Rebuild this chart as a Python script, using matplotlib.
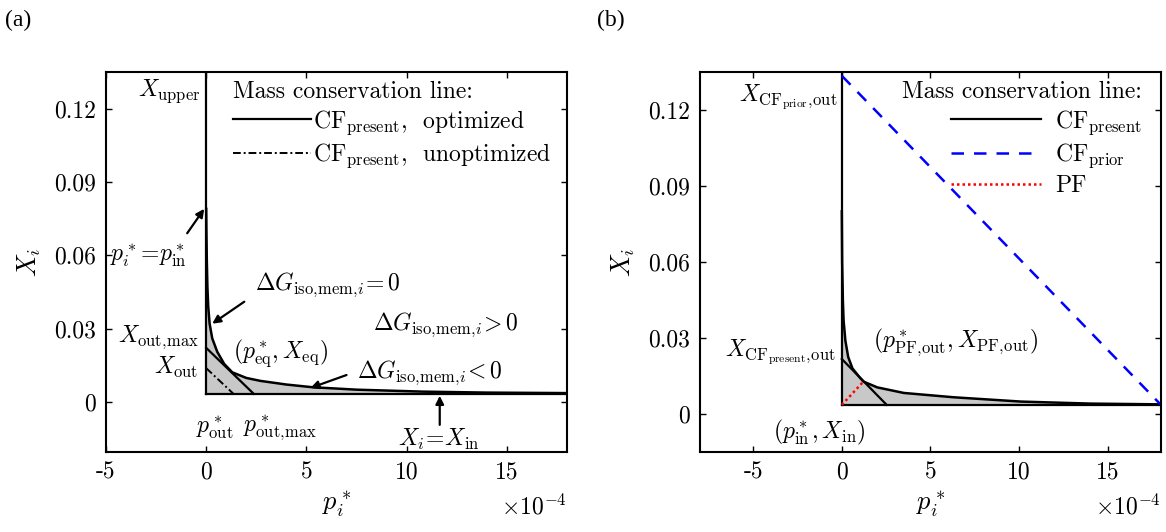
import numpy as np
import matplotlib
matplotlib.use('Agg')
import matplotlib.pyplot as plt
from matplotlib.ticker import FuncFormatter
import warnings

warnings.filterwarnings('ignore')

plt.rcParams['font.family'] = 'cmr10'
plt.rcParams['mathtext.fontset'] = 'cm'
plt.rcParams['axes.unicode_minus'] = False

FS = 17

# ---- data, p* in units of 1e-4 ----
# (a)
p_iso_a = [0.0, 0.01, 0.03, 0.06, 0.10, 0.17, 0.30, 0.55, 0.90, 1.30, 2.0, 2.7, 4.0, 5.3, 7.5, 10.8, 14.0, 18.0]
X_iso_a = [0.079, 0.070, 0.058, 0.047, 0.039, 0.032, 0.026, 0.0205, 0.0155, 0.0121, 0.0098, 0.0086, 0.0071, 0.006, 0.005, 0.0042, 0.0038, 0.0036]
X_in_a = 0.0033
X_top_a = 0.135
opt_p = [0.0, 2.37]
opt_X = [0.0221, X_in_a]
unopt_p = [0.0, 1.36]
unopt_X = [0.0138, X_in_a]

# (b)
p_iso_b = [0.0, 0.02, 0.06, 0.10, 0.20, 0.36, 0.60, 1.0, 1.22, 2.0, 3.5, 6.3, 10.1, 14.0, 18.0]
X_iso_b = [0.080, 0.060, 0.045, 0.037, 0.029, 0.0225, 0.018, 0.0145, 0.0128, 0.0105, 0.0083, 0.0066, 0.0049, 0.0041, 0.0038]
X_in_b = 0.0036
X_top_b = 0.135
cf_p = [0.0, 2.53]
cf_X = [0.0217, X_in_b]
prior_p = [0.0, 18.0]
prior_X = [0.1335, X_in_b]
pf_p = [0.0, 1.22]
pf_X = [X_in_b, 0.0128]

xticks = [-5, 0, 5, 10, 15]
yticks = [0, 0.03, 0.06, 0.09, 0.12]

C = r',\!'   # tight comma inside subscripts


def fmt(v, _):
    return '0' if abs(v) < 1e-12 else f'{v:g}'


def style_axes(ax, xlim, ylim):
    ax.set_xlim(*xlim)
    ax.set_ylim(*ylim)
    ax.set_xticks(xticks)
    ax.set_yticks(yticks)
    ax.xaxis.set_major_formatter(FuncFormatter(fmt))
    ax.yaxis.set_major_formatter(FuncFormatter(fmt))
    ax.tick_params(direction='in', top=True, right=True, length=4, width=1,
                   labelsize=FS, pad=7)
    for s in ax.spines.values():
        s.set_linewidth(1.5)
    ax.set_xlabel(r'$p_i^*$', fontsize=FS + 2, labelpad=4)
    ax.set_ylabel(r'$X_i$', fontsize=FS + 2, labelpad=8)
    ax.text(1.0, -0.11, r'$\times 10^{-4}$', transform=ax.transAxes,
            ha='right', va='top', fontsize=FS)


arrow = dict(arrowstyle='-|>', color='k', lw=1.6, mutation_scale=12,
             shrinkA=0, shrinkB=0)

fig = plt.figure(figsize=(11.66, 5.32), dpi=100)
axa = fig.add_axes([0.0909, 0.1504, 0.3954, 0.7143])
axb = fig.add_axes([0.6003, 0.1504, 0.3954, 0.7143])

# ---------------- (a) ----------------
ax = axa
ax.fill_between(p_iso_a, X_in_a, X_iso_a, color='#c8c8c8', lw=0)
ax.plot([0, 0], [X_in_a, X_top_a], color='k', lw=1.6)
ax.plot([0, p_iso_a[-1]], [X_in_a, X_in_a], color='k', lw=1.6)
ax.plot(p_iso_a, X_iso_a, color='k', lw=1.8)
l_opt, = ax.plot(opt_p, opt_X, color='k', lw=1.6)
l_un, = ax.plot(unopt_p, unopt_X, color='k', lw=1.4, ls=(0, (4, 1.5, 1, 1.5)))
style_axes(ax, (-5, 18), (-0.0205, X_top_a))

ax.legend([l_opt, l_un],
          [r'$\mathrm{CF}_{\mathrm{present}}$,  optimized',
           r'$\mathrm{CF}_{\mathrm{present}}$,  unoptimized'],
          title='Mass conservation line:', loc='upper left',
          bbox_to_anchor=(0.235, 1.025), frameon=False, fontsize=FS,
          title_fontsize=FS, handlelength=3.3, handletextpad=0.1,
          labelspacing=0.2, borderpad=0.3, alignment='left')

G = r'\Delta G_{\mathrm{iso' + C + 'mem}' + C + 'i}'
ax.text(-0.3, 0.127, r'$X_{\mathrm{upper}}$', ha='right', va='center', fontsize=FS)
ax.text(-4.8, 0.060, r'$p_i^*\!=\!p_{\mathrm{in}}^*$', ha='left', va='center', fontsize=FS)
ax.annotate('', xy=(-0.1, 0.079), xytext=(-0.95, 0.069), arrowprops=arrow)
ax.text(2.45, 0.048, '$' + G + r'\!=0$', ha='left', va='center', fontsize=FS)
ax.annotate('', xy=(0.3, 0.032), xytext=(1.9, 0.041), arrowprops=arrow)
ax.text(8.3, 0.0315, '$' + G + r'\!>0$', ha='left', va='center', fontsize=FS)
ax.text(1.36, 0.020, r'$(p_{\mathrm{eq}}^*, X_{\mathrm{eq}})$', ha='left', va='center', fontsize=FS)
ax.text(7.5, 0.0119, '$' + G + r'\!<0$', ha='left', va='center', fontsize=FS)
ax.annotate('', xy=(5.2, 0.0057), xytext=(7.0, 0.011), arrowprops=arrow)
ax.text(-0.38, 0.0266, r'$X_{\mathrm{out' + C + 'max}}$', ha='right', va='center', fontsize=FS)
ax.text(-0.38, 0.0139, r'$X_{\mathrm{out}}$', ha='right', va='center', fontsize=FS)
ax.text(-0.53, -0.0106, r'$p_{\mathrm{out}}^*$', ha='left', va='center', fontsize=FS)
ax.text(1.86, -0.0106, r'$p_{\mathrm{out' + C + 'max}}^*$', ha='left', va='center', fontsize=FS)
ax.text(9.57, -0.0155, r'$X_i\!=\!X_{\mathrm{in}}$', ha='left', va='center', fontsize=FS)
ax.annotate('', xy=(11.65, X_in_a - 0.0008), xytext=(11.65, -0.0094), arrowprops=arrow)

# ---------------- (b) ----------------
ax = axb
ax.fill_between(p_iso_b, X_in_b, X_iso_b, color='#c8c8c8', lw=0)
ax.plot([0, 0], [X_in_b, X_top_b], color='k', lw=1.6)
ax.plot([0, p_iso_b[-1]], [X_in_b, X_in_b], color='k', lw=1.6)
ax.plot(p_iso_b, X_iso_b, color='k', lw=1.8)
l_cf, = ax.plot(cf_p, cf_X, color='k', lw=1.6)
l_prior, = ax.plot(prior_p, prior_X, color='#0000ff', lw=1.8, ls=(0, (5, 4)))
l_pf, = ax.plot(pf_p, pf_X, color='#ff0000', lw=1.8, ls=(0, (1, 1.2)))
style_axes(ax, (-8, 18), (-0.015, X_top_b))

ax.legend([l_cf, l_prior, l_pf],
          [r'$\mathrm{CF}_{\mathrm{present}}$', r'$\mathrm{CF}_{\mathrm{prior}}$', 'PF'],
          title='Mass conservation line:', loc='upper right',
          bbox_to_anchor=(1.0, 1.025), frameon=False, fontsize=FS,
          title_fontsize=FS, handlelength=3.8, handletextpad=0.6,
          labelspacing=0.2, borderpad=0.3, alignment='right')

ax.text(-0.27, 0.125, r'$X_{\mathrm{CF}_{\mathrm{prior}}' + C + r'\mathrm{out}}$', ha='right', va='center', fontsize=FS)
ax.text(-0.37, 0.0245, r'$X_{\mathrm{CF}_{\mathrm{present}}' + C + r'\mathrm{out}}$', ha='right', va='center', fontsize=FS)
ax.text(1.77, 0.0284, r'$(p_{\mathrm{PF' + C + r'out}}^*, X_{\mathrm{PF' + C + r'out}})$', ha='left', va='center', fontsize=FS)
ax.text(-3.9, -0.0071, r'$(p_{\mathrm{in}}^*, X_{\mathrm{in}})$', ha='left', va='center', fontsize=FS)

fig.text(0.004, 0.962, '(a)', family='Liberation Serif', fontsize=FS, ha='left', va='center')
fig.text(0.512, 0.962, '(b)', family='Liberation Serif', fontsize=FS, ha='left', va='center')

fig.savefig('out.png', dpi=100)
